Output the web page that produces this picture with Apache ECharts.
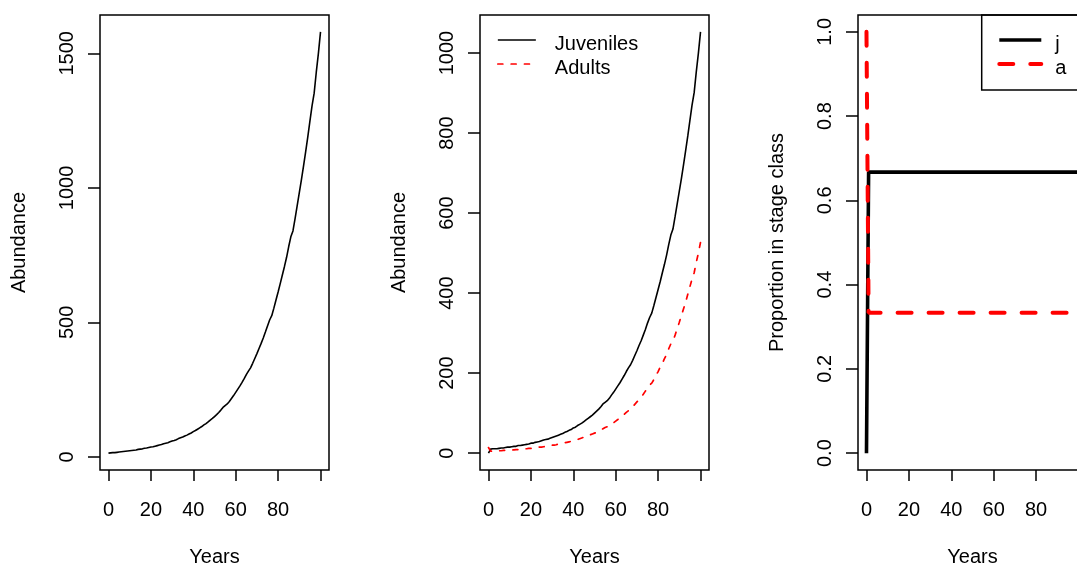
<!DOCTYPE html>
<html>
<head>
<meta charset="utf-8">
<script src="https://cdn.jsdelivr.net/npm/echarts@6/dist/echarts.min.js"></script>
<style>
  html, body { margin: 0; padding: 0; background: #ffffff; }
  #chart { width: 1077px; height: 567px; }
</style>
</head>
<body>
<div id="chart"></div>
<script>
// Stage-structured population projection over 100 years
const years = [
  0, 1, 2, 3, 4, 5, 6, 7, 8, 9, 10, 11, 12, 13, 14, 15, 16, 17, 18, 19, 20,
  21, 22, 23, 24, 25, 26, 27, 28, 29, 30, 31, 32, 33, 34, 35, 36, 37, 38, 39, 40,
  41, 42, 43, 44, 45, 46, 47, 48, 49, 50, 51, 52, 53, 54, 55, 56, 57, 58, 59, 60,
  61, 62, 63, 64, 65, 66, 67, 68, 69, 70, 71, 72, 73, 74, 75, 76, 77, 78, 79, 80,
  81, 82, 83, 84, 85, 86, 87, 88, 89, 90, 91, 92, 93, 94, 95, 96, 97, 98, 99, 100
];

// Total abundance (juveniles + adults)
const total = [
  14, 15, 16, 16, 17, 18, 19, 20, 21, 22, 23, 24, 25, 26, 28, 29, 30, 32, 33, 35, 37,
  38, 40, 42, 44, 46, 49, 51, 53, 56, 59, 61, 64, 68, 71, 74, 78, 81, 85, 89, 94,
  98, 103, 108, 113, 119, 124, 130, 137, 143, 150, 157, 165, 174, 184, 191, 197, 206, 217, 228, 240,
  252, 264, 277, 291, 306, 319, 331, 348, 366, 384, 403, 422, 442, 464, 487, 509, 525, 553, 583, 613,
  644, 676, 708, 742, 782, 818, 840, 886, 934, 982, 1031, 1082, 1135, 1190, 1248, 1305, 1352, 1430, 1500, 1580
];

const juveniles = [
  0, 10, 11, 11, 11, 12, 13, 13, 14, 15, 15, 16, 17, 17, 19, 19, 20, 21, 22, 23, 25,
  25, 27, 28, 29, 31, 33, 34, 35, 37, 39, 41, 43, 45, 47, 49, 52, 54, 57, 59, 63,
  65, 69, 72, 75, 79, 83, 87, 91, 95, 100, 105, 110, 116, 123, 127, 131, 137, 145, 152, 160,
  168, 176, 185, 194, 204, 213, 221, 232, 244, 256, 269, 281, 295, 309, 325, 339, 350, 369, 389, 409,
  429, 451, 472, 495, 521, 545, 560, 591, 623, 655, 687, 721, 757, 793, 832, 870, 901, 953, 1000, 1053
];

const adults = [
  14, 5, 5, 5, 6, 6, 6, 7, 7, 7, 8, 8, 8, 9, 9, 10, 10, 11, 11, 12, 12,
  13, 13, 14, 15, 15, 16, 17, 18, 19, 20, 20, 21, 23, 24, 25, 26, 27, 28, 30, 31,
  33, 34, 36, 38, 40, 41, 43, 46, 48, 50, 52, 55, 58, 61, 64, 66, 69, 72, 76, 80,
  84, 88, 92, 97, 102, 106, 110, 116, 122, 128, 134, 141, 147, 155, 162, 170, 175, 184, 194, 204,
  215, 225, 236, 247, 261, 273, 280, 295, 311, 327, 344, 361, 378, 397, 416, 435, 451, 477, 500, 527
];

// Proportion of the population in each stage class
const stageYears = [0, 1, 100];
const propJuveniles = [0, 0.667, 0.667];
const propAdults = [1, 0.333, 0.333];

// Axis ticks and labels
const yearTicks = [0, 20, 40, 60, 80, 100];
const yearLabels = [0, 20, 40, 60, 80];
const totalTicks = [0, 500, 1000, 1500];
const stageTicks = [0, 200, 400, 600, 800, 1000];
const propTicks = [0, 0.2, 0.4, 0.6, 0.8, 1.0];

const FONT = "'Liberation Sans', Arial, Helvetica, sans-serif";
const FONT_SIZE = 20;

// Axis range padded by 4% on each side
function paddedRange(values) {
  const lo = Math.min(...values), hi = Math.max(...values);
  const pad = (hi - lo) * 0.04;
  return [lo - pad, hi + pad];
}

function pairs(xs, ys) {
  return xs.map((x, i) => [x, ys[i]]);
}

const xRange = paddedRange(years);
const totalRange = paddedRange(total);
const stageRange = paddedRange(juveniles.concat(adults));
const propRange = paddedRange(propJuveniles.concat(propAdults));

const GRID_TOP = 15, GRID_W = 229, GRID_H = 455;

function makeGrid(left) {
  return {
    left: left, top: GRID_TOP, width: GRID_W, height: GRID_H,
    show: true, borderColor: '#000', borderWidth: 1.5,
    backgroundColor: 'transparent', containLabel: false, outerBoundsMode: 'none'
  };
}

const textBase = { color: '#000', fontSize: FONT_SIZE, fontFamily: FONT };

function makeXAxis(gridIndex) {
  return {
    type: 'value', gridIndex: gridIndex,
    min: xRange[0], max: xRange[1],
    axisLine: { show: false, onZero: false },
    splitLine: { show: false },
    axisTick: { show: true, inside: false, length: 11, customValues: yearTicks,
      lineStyle: { color: '#000', width: 1.5 } },
    axisLabel: Object.assign({ customValues: yearLabels, margin: 30 }, textBase),
    name: 'Years', nameLocation: 'middle', nameGap: 77,
    nameTextStyle: textBase
  };
}

function makeYAxis(gridIndex, range, ticks, name, digits) {
  return {
    type: 'value', gridIndex: gridIndex,
    min: range[0], max: range[1],
    axisLine: { show: false, onZero: false },
    splitLine: { show: false },
    axisTick: { show: true, inside: false, length: 12, customValues: ticks,
      lineStyle: { color: '#000', width: 1.5 } },
    axisLabel: Object.assign({ customValues: ticks, rotate: 90, margin: 23,
      formatter: v => Number(v).toFixed(digits) }, textBase),
    name: name, nameLocation: 'middle', nameGap: 71,
    nameTextStyle: textBase
  };
}

// Legend labels sit a little below their line keys
function legendTextStyle(leftGap) {
  return Object.assign({
    rich: { t: Object.assign({ padding: [8, 0, 0, leftGap] }, textBase) }
  }, textBase);
}

const option = {
  animation: false,
  backgroundColor: '#ffffff',
  grid: [makeGrid(100), makeGrid(480), makeGrid(858)],
  xAxis: [makeXAxis(0), makeXAxis(1), makeXAxis(2)],
  yAxis: [
    makeYAxis(0, totalRange, totalTicks, 'Abundance', 0),
    makeYAxis(1, stageRange, stageTicks, 'Abundance', 0),
    makeYAxis(2, propRange, propTicks, 'Proportion in stage class', 1)
  ],
  legend: [
    {
      data: [
        { name: 'Juveniles', lineStyle: { width: 1.6 } },
        { name: 'Adults', lineStyle: { width: 1.7, type: [5, 8.3], cap: 'round' } }
      ],
      formatter: '{t|{name}}',
      orient: 'vertical', left: 497, top: 30, padding: 0,
      itemWidth: 38, itemHeight: 25, itemGap: 0,
      selectedMode: false,
      itemStyle: { opacity: 0 },
      textStyle: legendTextStyle(14)
    },
    {
      data: [
        { name: 'j', lineStyle: { width: 3.6 } },
        { name: 'a', lineStyle: { width: 4, type: [14, 17], cap: 'round' } }
      ],
      formatter: '{t|{name}}',
      orient: 'vertical', left: 981.7, top: 15, padding: [15, 60, 12, 15.6],
      itemWidth: 42, itemHeight: 25, itemGap: 0,
      borderColor: '#000', borderWidth: 1.5, borderRadius: 0,
      selectedMode: false,
      itemStyle: { opacity: 0 },
      textStyle: legendTextStyle(9)
    }
  ],
  series: [
    {
      name: 'Total', type: 'line', xAxisIndex: 0, yAxisIndex: 0,
      data: pairs(years, total), showSymbol: false, symbol: 'none',
      lineStyle: { color: '#000', width: 1.6 }, itemStyle: { color: '#000' }
    },
    {
      name: 'Juveniles', type: 'line', xAxisIndex: 1, yAxisIndex: 1,
      data: pairs(years, juveniles), showSymbol: false, symbol: 'none',
      lineStyle: { color: '#000', width: 1.6 }, itemStyle: { color: '#000' }
    },
    {
      name: 'Adults', type: 'line', xAxisIndex: 1, yAxisIndex: 1,
      data: pairs(years, adults), showSymbol: false, symbol: 'none',
      lineStyle: { color: '#ff0000', width: 1.7, type: [5, 8.3], cap: 'round' },
      itemStyle: { color: '#ff0000' }
    },
    {
      name: 'j', type: 'line', xAxisIndex: 2, yAxisIndex: 2,
      data: pairs(stageYears, propJuveniles), showSymbol: false, symbol: 'none',
      lineStyle: { color: '#000', width: 3.6 }, itemStyle: { color: '#000' }
    },
    {
      name: 'a', type: 'line', xAxisIndex: 2, yAxisIndex: 2,
      data: pairs(stageYears, propAdults), showSymbol: false, symbol: 'none',
      lineStyle: { color: '#ff0000', width: 4, type: [14, 17], cap: 'round' },
      itemStyle: { color: '#ff0000' }
    }
  ]
};

const chart = echarts.init(document.getElementById('chart'), null, { renderer: 'canvas' });
chart.setOption(option);
</script>
</body>
</html>
